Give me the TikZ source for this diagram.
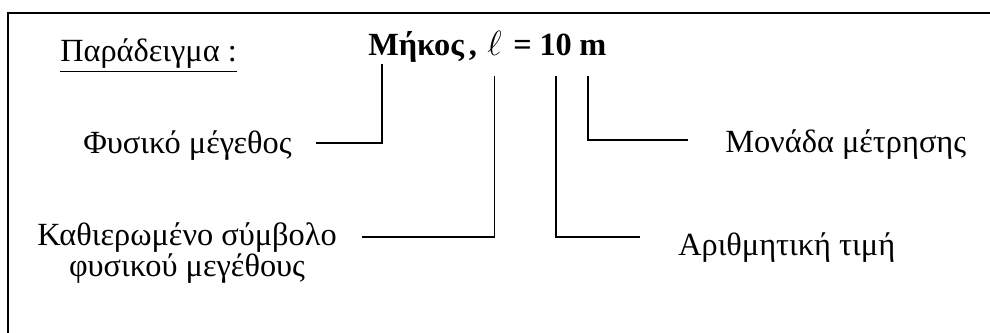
\documentclass[tikz,border=0pt]{standalone}
\usepackage{fontspec}
\setmainfont{Liberation Serif}
\usetikzlibrary{positioning}

\begin{document}
\begin{tikzpicture}[x=0.025cm, y=0.025cm,
  lbl/.style={inner sep=0pt, font=\fontsize{23}{27}\selectfont},
  part/.style={inner sep=0pt, font=\fontsize{23}{27}\selectfont\bfseries},
  link/.style={line width=1.3pt},
  frame/.style={line width=2pt}
]
  \useasboundingbox (0,0) rectangle (990,333);
  \draw[frame] (990,320) -| (8,0);

  \node[lbl, anchor=base west] (example) at (60,271) {\underline{Παράδειγμα :}};

  % title line, one node per part
  \node[part, anchor=base west]     (qty)   at (368,277) {Μήκος};
  \node[part, base right=3pt of qty]    (comma) {,};
  \node[part, base right=7pt of comma]  (sym)   {$\ell$};
  \node[part, base right=8pt of sym]    (eq)    {=};
  \node[part, base right=5pt of eq]     (val)   {10};
  \node[part, base right=5pt of val]    (unit)  {m};

  % labels
  \node[lbl, anchor=base west] (physlbl) at (83,179)  {Φυσικό μέγεθος};
  \node[lbl, anchor=base east] (symlbl)  at (337,87)  {Καθιερωμένο σύμβολο};
  \node[lbl, anchor=base] (symlbl2) at ([yshift=-22pt]symlbl.base) {φυσικού μεγέθους};
  \node[lbl, anchor=base west] (vallbl)  at (678,77)  {Αριθμητική τιμή};
  \node[lbl, anchor=base west] (unitlbl) at (725,180) {Μονάδα μέτρησης};

  \draw[link] ([xshift=10pt,yshift=-6pt]qty.base west) |- ([xshift=17pt,yshift=8pt]physlbl.base east);
  \draw[link] ([yshift=-14pt]sym.base) |- ([xshift=18pt,yshift=6.4pt]symlbl.base east);
  \draw[link] ([yshift=-14pt]val.base) |- ([xshift=-27pt,yshift=13.5pt]vallbl.base west);
  \draw[link] ([xshift=6.5pt,yshift=-14pt]unit.base west) |- ([xshift=-26pt,yshift=9pt]unitlbl.base west);
\end{tikzpicture}
\end{document}
